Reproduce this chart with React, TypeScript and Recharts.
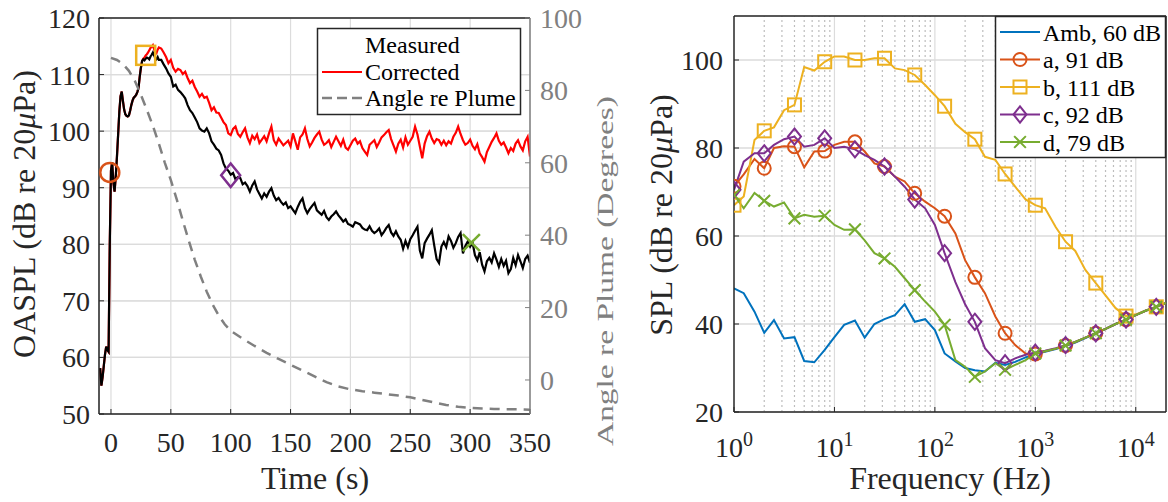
import React from 'react';
import { ComposedChart, Line, XAxis, YAxis, CartesianGrid, Scatter, ReferenceLine } from 'recharts';

const FONT = '"Liberation Serif", "Times New Roman", Times, serif';
const AX = '#262626';
const GRID = '#dcdcdc';
const GRAY = '#808080';
const COL: Record<string, string> = { amb: '#0072BD', a: '#D95319', b: '#EDB120', c: '#7E2F8E', d: '#77AC30' };

// ---------- Left chart data ----------
const timeS = [
  -9, -8, -7, -6, -5, -4, -3, -2, -1, 0, 1, 2, 3, 4, 5, 6, 7, 8, 9, 10, 11, 12, 13, 14, 15,
  16, 17, 18, 19, 20, 21, 22, 23, 24, 25, 26, 27, 28, 29, 30, 31, 32, 33, 34, 35, 36, 37, 38, 39, 40,
  42, 44, 46, 48, 50, 52, 54, 56, 58, 60, 62, 64, 66, 68, 70, 72, 74, 76, 78, 80, 82, 84, 86, 88, 90, 92, 94, 96, 98, 100,
  102, 104, 106, 108, 110, 112, 114, 116, 118, 120, 122, 124, 126, 128, 130, 132, 134, 136, 138, 140, 142, 144, 146, 148, 150,
  152, 154, 156, 158, 160, 162, 164, 166, 168, 170, 172, 174, 176, 178, 180, 182, 184, 186, 188, 190, 192, 194, 196, 198, 200,
  202, 204, 206, 208, 210, 212, 214, 216, 218, 220, 222, 224, 226, 228, 230, 232, 234, 236, 238, 240, 242, 244, 246, 248, 250,
  252, 254, 256, 258, 260, 262, 264, 266, 268, 270, 272, 274, 276, 278, 280, 282, 284, 286, 288, 290, 292, 294, 296, 298, 300,
  302, 304, 306, 308, 310, 312, 314, 316, 318, 320, 322, 324, 326, 328, 330, 332, 334, 336, 338, 340, 342, 344, 346, 348, 350,
];

const measured = [
  58.1, 55.0, 56.5, 58.5, 60.5, 61.9, 61.3, 61.0, 80.0, 93.0, 94.5, 91.0, 89.3, 92.0, 95.5, 99.5, 103.5, 106.2, 107.0, 105.3, 103.8, 103.0, 102.7, 102.6, 102.8,
  103.6, 104.6, 105.4, 105.9, 106.1, 106.4, 106.9, 107.6, 109.6, 111.2, 112.4, 112.7, 112.5, 112.8, 113.0, 112.9, 112.7, 113.2, 113.5, 113.9, 113.4, 112.9, 112.7, 113.1, 112.6,
  112.6, 111.8, 111.1, 110.2, 109.6, 107.9, 108.2, 107.3, 106.9, 106.4, 105.8, 104.6, 103.7, 103.2, 102.4, 101.6, 100.5, 100.1, 99.9, 100.5, 99.6, 98.2, 97.6, 96.9, 96.6, 95.8, 94.3, 93.4, 93.0, 92.3,
  92.6, 91.5, 91.9, 91.7, 90.6, 90.9, 90.3, 89.3, 90.4, 91.1, 89.7, 88.9, 88.1, 89.0, 88.4, 89.3, 89.9, 88.6, 87.8, 88.2, 87.5, 87.0, 87.4, 86.4, 86.7,
  86.1, 85.5, 86.6, 87.5, 88.1, 86.4, 85.5, 86.2, 86.8, 87.3, 86.0, 85.6, 85.2, 85.9, 84.8, 84.3, 84.9, 85.3, 85.8, 85.1, 84.6, 84.0, 84.4, 83.6, 83.4,
  83.1, 83.9, 83.7, 83.5, 82.9, 82.6, 82.5, 83.2, 82.4, 82.0, 82.3, 82.8, 81.6, 82.2, 82.9, 83.4, 82.1, 81.5, 82.3, 81.4, 80.8, 79.2, 80.6, 79.5, 80.9,
  81.6, 82.4, 83.1, 78.9, 77.5, 80.2, 81.0, 81.7, 82.5, 79.8, 77.4, 76.7, 79.6, 80.4, 79.5, 81.4, 80.6, 79.4, 80.2, 81.3, 82.0, 78.4, 79.7, 80.5, 79.6,
  80.3, 78.1, 77.2, 78.6, 76.4, 75.2, 77.0, 77.6, 76.8, 78.4, 77.3, 76.0, 77.4, 76.2, 77.1, 74.9, 75.6, 77.6, 76.3, 78.1, 77.0, 75.8, 77.4, 78.0, 76.7,
];

const corrected = [
  58.1, 55.0, 56.5, 58.5, 60.5, 61.9, 61.3, 61.0, 80.0, 93.0, 94.5, 91.0, 89.3, 92.0, 95.5, 99.5, 103.5, 106.2, 107.0, 105.3, 103.8, 103.0, 102.7, 102.6, 102.8,
  103.6, 104.6, 105.4, 105.9, 106.1, 106.4, 106.9, 107.6, 109.6, 111.2, 112.4, 112.8, 113.0, 113.4, 113.6, 113.9, 114.3, 114.7, 114.9, 115.2, 114.5, 114.0, 113.8, 114.4, 114.8,
  114.6, 113.9, 113.1, 112.0, 112.6, 111.2, 110.5, 111.0, 110.8, 110.1, 110.5, 109.4, 108.5, 108.9, 107.8, 107.0, 106.1, 106.6, 105.9, 106.1, 105.0, 103.7, 104.2, 103.3, 103.2, 102.4, 101.6, 101.1, 99.6, 99.3,
  100.4, 100.8, 99.5, 99.0, 99.8, 100.5, 98.9, 97.9, 99.2, 98.6, 99.4, 97.9, 98.5, 99.1, 98.2, 99.6, 100.8, 98.4, 97.6, 98.7, 98.1, 97.5, 97.9, 98.3, 97.3,
  99.6, 98.2, 96.7, 98.9, 99.4, 100.5, 98.6, 97.3, 98.0, 98.8, 99.4, 99.9, 98.5, 97.6, 97.9, 98.4, 97.2, 98.1, 99.0, 98.2, 97.4, 98.5, 97.1, 96.7, 97.5,
  98.3, 98.7, 97.8, 98.2, 97.0, 96.4, 95.8, 97.6, 98.0, 98.4, 97.2, 98.0, 98.9, 99.3, 99.8, 100.2, 98.6, 97.5, 96.4, 97.8, 98.5, 97.1, 98.9, 97.6, 98.3,
  99.0, 100.8, 99.4, 97.3, 95.2, 97.8, 99.1, 99.9, 98.7, 97.9, 98.6, 98.4, 97.6, 98.3, 97.5, 98.2, 97.8, 99.0, 99.7, 100.8, 99.5, 98.4, 97.6, 97.9, 98.5,
  97.4, 96.8, 97.7, 96.1, 95.4, 94.6, 96.3, 97.2, 98.1, 98.8, 99.6, 98.3, 97.6, 98.0, 97.1, 96.1, 97.0, 96.5, 97.8, 98.4, 97.3, 96.6, 98.2, 99.0, 95.5,
];

const angleTime = [0, 5, 10, 15, 20, 25, 30, 35, 40, 45, 50, 55, 60, 65, 70, 75, 80, 85, 90, 95, 100, 110, 120, 130, 140, 150, 160, 170, 180, 190, 200, 210, 220, 230, 240, 250, 260, 270, 280, 290, 300, 310, 320, 330, 340, 350];
const angleDeg = [89.0, 88.4, 87.3, 85.4, 82.6, 78.8, 74.6, 70.2, 65.3, 60.0, 55.2, 49.8, 44.0, 38.5, 33.2, 28.6, 24.4, 20.8, 17.8, 15.4, 13.6, 11.4, 9.4, 7.5, 5.8, 4.2, 2.6, 1.0, -0.6, -1.8, -2.6, -3.1, -3.5, -3.9, -4.3, -4.8, -5.5, -6.2, -6.9, -7.4, -7.7, -7.9, -8.0, -8.1, -8.1, -8.2];

const markerKinds = ['a', 'b', 'c', 'd'];
const markerTime = [-1, 29, 100, 301];
const markerLevel = [92.7, 113.4, 92.2, 80.3];

const timeTicks = [0, 50, 100, 150, 200, 250, 300, 350];
const oasplTicks = [50, 60, 70, 80, 90, 100, 110, 120];
const angleTicks = [0, 20, 40, 60, 80, 100];

// ---------- Right chart data ----------
const freqHz = [1, 1.25, 1.6, 2, 2.5, 3.15, 4, 5, 6.3, 8, 10, 12.5, 16, 20, 25, 31.5, 40, 50, 63, 80, 100, 125, 160, 200, 250, 315, 400, 500, 630, 800, 1000, 1250, 1600, 2000, 2500, 3150, 4000, 5000, 6300, 8000, 10000, 12500, 16000, 20000];
const octaveHz = [1, 2, 4, 8, 16, 31.5, 63, 125, 250, 500, 1000, 2000, 4000, 8000, 16000];
const splAmb = [48.1, 47.0, 42.8, 38.0, 40.9, 36.7, 37.0, 31.6, 31.3, 34.1, 37.0, 39.8, 40.8, 36.9, 40.0, 41.1, 42.0, 44.5, 40.5, 41.1, 38.6, 33.3, 31.5, 30.0, 29.5, 29.2, 31.2, 30.7, 31.4, 32.4, 33.2, 33.7, 34.3, 35.0, 35.8, 36.8, 37.9, 38.9, 40.0, 41.0, 42.0, 43.0, 43.9, 44.8];
const splA = [71.3, 74.0, 77.5, 75.4, 80.0, 80.4, 80.3, 75.6, 79.2, 79.3, 80.7, 81.4, 81.4, 79.2, 76.5, 75.8, 73.5, 72.4, 69.7, 67.8, 66.3, 64.5, 60.6, 54.5, 50.6, 47.0, 41.7, 37.9, 35.2, 33.3, 33.2, 33.8, 34.4, 35.1, 35.9, 36.9, 37.9, 38.9, 40.0, 41.0, 42.0, 43.0, 43.9, 44.8];
const splB = [67.0, 69.0, 81.8, 83.9, 84.7, 88.6, 89.8, 98.4, 97.6, 99.6, 100.8, 100.8, 100.0, 100.0, 100.4, 100.4, 98.1, 97.7, 96.6, 94.3, 92.0, 89.5, 85.5, 83.6, 82.0, 78.0, 77.3, 74.1, 71.2, 68.3, 67.0, 66.3, 62.0, 58.7, 56.6, 52.3, 49.3, 46.5, 43.6, 41.8, 42.2, 43.0, 43.9, 44.8];
const splC = [70.5, 76.9, 78.8, 78.8, 80.7, 82.0, 82.6, 80.3, 80.7, 82.2, 80.0, 80.3, 79.7, 78.4, 77.3, 75.8, 73.5, 71.2, 68.3, 66.3, 62.5, 56.1, 49.5, 44.5, 40.5, 34.5, 31.8, 31.1, 32.2, 33.0, 33.5, 33.9, 34.5, 35.2, 35.9, 36.9, 37.9, 38.9, 40.0, 41.0, 42.0, 43.0, 43.9, 44.8];
const splD = [69.3, 66.3, 69.8, 68.0, 66.7, 67.6, 64.0, 64.8, 64.4, 64.6, 62.5, 61.4, 61.5, 59.0, 56.1, 54.9, 53.0, 50.4, 47.7, 45.1, 42.8, 39.8, 31.8, 30.3, 28.0, 29.2, 31.1, 29.6, 30.7, 31.8, 33.3, 33.8, 34.4, 35.1, 35.9, 36.9, 37.9, 38.9, 40.0, 41.0, 42.0, 43.0, 43.9, 44.8];

const freqTicks = [1, 10, 100, 1000, 10000];
const splTicks = [20, 40, 60, 80, 100];
const minorHz = [2, 3, 4, 5, 6, 7, 8, 9, 20, 30, 40, 50, 60, 70, 80, 90, 200, 300, 400, 500, 600, 700, 800, 900, 2000, 3000, 4000, 5000, 6000, 7000, 8000, 9000];
const majorHz = [10, 100, 1000, 10000];

const legendLeft = ['Measured', 'Corrected', 'Angle re Plume'];
const legendRight = [
  { key: 'amb', label: 'Amb, 60 dB' },
  { key: 'a', label: 'a, 91 dB' },
  { key: 'b', label: 'b, 111 dB' },
  { key: 'c', label: 'c, 92 dB' },
  { key: 'd', label: 'd, 79 dB' },
];

// ---------- tables built from arrays ----------
const timeRows = timeS.map((t, i) => ({ t, measured: measured[i], corrected: corrected[i] }));
const angleRows = angleTime.map((t, i) => ({ t, angle: angleDeg[i] }));
const markerRows = markerKinds.map((k, i) => ({ kind: k, t: markerTime[i], v: markerLevel[i] }));
const freqRows = freqHz.map((f, i) => ({ f, amb: splAmb[i], a: splA[i], b: splB[i], c: splC[i], d: splD[i] }));
const octaveSet = new Set(octaveHz);

function markerShape(kind: string, cx: number, cy: number, s: number, sw: number) {
  const color = COL[kind];
  if (kind === 'a') return <circle cx={cx} cy={cy} r={s / 2} fill="none" stroke={color} strokeWidth={sw} />;
  if (kind === 'b') return <rect x={cx - s / 2} y={cy - s / 2} width={s} height={s} fill="none" stroke={color} strokeWidth={sw} />;
  if (kind === 'c') {
    const hw = s * 0.5;
    const hh = s * 0.62;
    return <path d={`M${cx},${cy - hh}L${cx + hw},${cy}L${cx},${cy + hh}L${cx - hw},${cy}Z`} fill="none" stroke={color} strokeWidth={sw} />;
  }
  if (kind === 'd') {
    const h = s * 0.45;
    return <path d={`M${cx - h},${cy - h}L${cx + h},${cy + h}M${cx - h},${cy + h}L${cx + h},${cy - h}`} fill="none" stroke={color} strokeWidth={sw} />;
  }
  return <g />;
}

const makeDot = (kind: string) => (p: any) => {
  const key = `${kind}-${p.index}`;
  if (!p.payload || !octaveSet.has(p.payload.f)) return <g key={key} />;
  return <g key={key}>{markerShape(kind, p.cx, p.cy, 13, 2)}</g>;
};

const PowTick = (props: any) => {
  const { x, y, payload } = props;
  const exp = Math.round(Math.log10(payload.value));
  return (
    <text x={x} y={y + 40} textAnchor="middle" fontFamily={FONT} fontSize={28} fill={AX}>
      <tspan>10</tspan>
      <tspan dy={-11} fontSize={20}>{exp}</tspan>
    </text>
  );
};

const tickStyle = { fontSize: 28, fill: AX, fontFamily: FONT };

export default function App() {
  return (
    <div style={{ position: 'absolute', left: 0, top: 0, width: 1168, height: 502, background: '#fff', overflow: 'hidden' }}>
      <div style={{ position: 'absolute', left: 0, top: 0 }}>
        <ComposedChart width={620} height={502} data={timeRows} margin={{ top: 18, right: 20, bottom: 38, left: 39 }}>
          <CartesianGrid yAxisId="L" stroke={GRID} strokeWidth={1.2} />
          <XAxis dataKey="t" type="number" domain={[-10, 350]} allowDataOverflow ticks={timeTicks} height={50}
            tick={tickStyle} tickSize={-5} tickMargin={23} stroke={AX} axisLine={{ stroke: AX, strokeWidth: 1.5 }} />
          <YAxis yAxisId="L" type="number" domain={[50, 120]} allowDataOverflow ticks={oasplTicks} width={60}
            tick={tickStyle} tickSize={-5} tickMargin={14} stroke={AX} axisLine={{ stroke: AX, strokeWidth: 1.5 }} />
          <YAxis yAxisId="R" orientation="right" type="number" domain={[-9.4, 100]} allowDataOverflow ticks={angleTicks} width={70}
            tick={{ ...tickStyle, fill: GRAY }} tickSize={-5} tickMargin={15} stroke={GRAY} axisLine={{ stroke: GRAY, strokeWidth: 1.5 }} />
          {oasplTicks.map((v) => (
            <ReferenceLine key={`h${v}`} yAxisId="L" y={v} stroke={GRID} strokeWidth={1.2} />
          ))}
          <ReferenceLine yAxisId="L" y={120} stroke={AX} strokeWidth={1.5} />
          <Line yAxisId="L" dataKey="corrected" stroke="#ff0000" strokeWidth={2.2} dot={false} isAnimationActive={false} />
          <Line yAxisId="L" dataKey="measured" stroke="#000000" strokeWidth={2.2} dot={false} isAnimationActive={false} />
          <Line yAxisId="R" data={angleRows} dataKey="angle" stroke={GRAY} strokeWidth={2.5} strokeDasharray="10 7" dot={false} isAnimationActive={false} />
          {markerRows.map((m) => (
            <Scatter key={m.kind} yAxisId="L" data={[m]} dataKey="v" isAnimationActive={false}
              shape={(p: any) => markerShape(m.kind, p.cx, p.cy, 19, 2.5)} />
          ))}
        </ComposedChart>
      </div>
      <div style={{ position: 'absolute', left: 620, top: 0 }}>
        <ComposedChart width={548} height={502} data={freqRows} margin={{ top: 16, right: 2, bottom: 40, left: 54 }}>
          <CartesianGrid stroke={GRID} strokeWidth={1.2} vertical={false} />
          <XAxis dataKey="f" type="number" scale="log" domain={[1, 20000]} allowDataOverflow ticks={freqTicks} height={50}
            tick={<PowTick />} tickSize={-5} tickMargin={10} stroke={AX} axisLine={{ stroke: AX, strokeWidth: 1.5 }} />
          <YAxis type="number" domain={[20, 110]} allowDataOverflow ticks={splTicks} width={60}
            tick={tickStyle} tickSize={-5} tickMargin={16} stroke={AX} axisLine={{ stroke: AX, strokeWidth: 1.5 }} />
          {minorHz.map((f) => (
            <ReferenceLine key={`mi${f}`} x={f} stroke="#bdbdbd" strokeWidth={1.2} strokeDasharray="2 3" />
          ))}
          {majorHz.map((f) => (
            <ReferenceLine key={`ma${f}`} x={f} stroke={GRID} strokeWidth={1.2} />
          ))}
          {splTicks.map((v) => (
            <ReferenceLine key={`hs${v}`} y={v} stroke={GRID} strokeWidth={1.2} />
          ))}
          <ReferenceLine y={110} stroke={AX} strokeWidth={1.5} />
          <ReferenceLine x={20000} stroke={AX} strokeWidth={1.5} />
          <Line dataKey="amb" stroke={COL.amb} strokeWidth={2} dot={false} isAnimationActive={false} />
          <Line dataKey="a" stroke={COL.a} strokeWidth={2} dot={makeDot('a')} isAnimationActive={false} />
          <Line dataKey="b" stroke={COL.b} strokeWidth={2} dot={makeDot('b')} isAnimationActive={false} />
          <Line dataKey="c" stroke={COL.c} strokeWidth={2} dot={makeDot('c')} isAnimationActive={false} />
          <Line dataKey="d" stroke={COL.d} strokeWidth={2} dot={makeDot('d')} isAnimationActive={false} />
        </ComposedChart>
      </div>
      <svg width={1168} height={502} style={{ position: 'absolute', left: 0, top: 0, pointerEvents: 'none' }} fontFamily={FONT}>
        {/* axis titles */}
        <text transform="translate(35,214) rotate(-90)" textAnchor="middle" fontSize={32} fill={AX}>
          OASPL (dB re 20<tspan fontStyle="italic">μ</tspan>Pa)
        </text>
        <text transform="translate(613,271) rotate(-90)" textAnchor="middle" fontSize={24} fill={GRAY}
          textLength={350} lengthAdjust="spacingAndGlyphs">
          Angle re Plume (Degrees)
        </text>
        <text x={315} y={489} textAnchor="middle" fontSize={32} fill={AX}>Time (s)</text>
        <text transform="translate(672,215) rotate(-90)" textAnchor="middle" fontSize={32} fill={AX}>
          SPL (dB re 20<tspan fontStyle="italic">μ</tspan>Pa)
        </text>
        <text x={950} y={489} textAnchor="middle" fontSize={32} fill={AX}>Frequency (Hz)</text>

        {/* left legend */}
        <rect x={317.5} y={28.5} width={203} height={86} fill="#fff" stroke={AX} strokeWidth={1.5} />
        <text x={365} y={53} fontSize={24} fill="#000">{legendLeft[0]}</text>
        <line x1={322} y1={72} x2={362} y2={72} stroke="#ff0000" strokeWidth={2.2} />
        <text x={365} y={80} fontSize={24} fill="#000">{legendLeft[1]}</text>
        <line x1={322} y1={98} x2={362} y2={98} stroke={GRAY} strokeWidth={2.5} strokeDasharray="10 5" />
        <text x={365} y={106} fontSize={24} fill="#000">{legendLeft[2]}</text>

        {/* right legend */}
        <rect x={995.5} y={16.5} width={170} height={141} fill="#fff" stroke={AX} strokeWidth={1.5} />
        {legendRight.map((e, i) => {
          const cy = 32 + i * 27.5;
          return (
            <g key={e.key}>
              <line x1={1000} y1={cy} x2={1040} y2={cy} stroke={COL[e.key]} strokeWidth={2} />
              {e.key !== 'amb' ? markerShape(e.key, 1020, cy, 13, 2) : null}
              <text x={1043} y={cy + 8.5} fontSize={24} fill="#000">{e.label}</text>
            </g>
          );
        })}
      </svg>
    </div>
  );
}
